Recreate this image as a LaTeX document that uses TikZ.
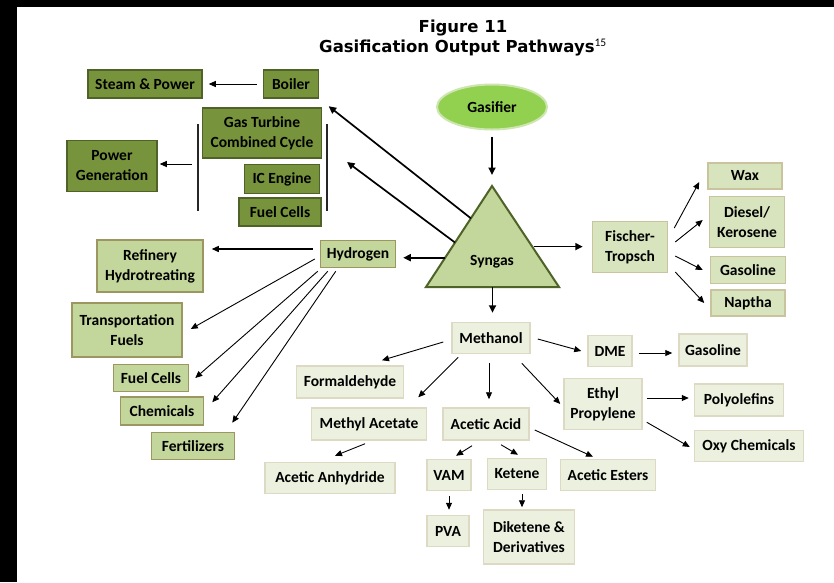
\documentclass[tikz,border=0pt]{standalone}
\usepackage{fontspec}
\setmainfont{Carlito}
\newfontfamily\titlefont{DejaVu Sans}
\usepackage{xcolor}
\usepackage{tikz}
\usetikzlibrary{arrows.meta, positioning, shapes.geometric, calc}

\definecolor{oliveDark}{HTML}{77933C}
\definecolor{oliveLine}{HTML}{4F6228}
\definecolor{oliveMid}{HTML}{C3D69B}
\definecolor{khakiLine}{HTML}{9C9660}
\definecolor{oliveLight}{HTML}{D7E4BD}
\definecolor{tanLine}{HTML}{C9C39E}
\definecolor{olivePale}{HTML}{EBF1DE}
\definecolor{tanPale}{HTML}{DDD9C3}
\definecolor{gasGreen}{HTML}{92D050}
\definecolor{gasRim}{HTML}{CDE5AE}

\begin{document}
\begin{tikzpicture}[
          x=1pt, y=-1pt,
          every node/.style={font=\bfseries\fontsize{15.5}{20}\selectfont, align=center, inner sep=1pt},
          darkbox/.style={rectangle, draw=oliveLine, fill=oliveDark, line width=1.5pt},
          midbox/.style={rectangle, draw=khakiLine, fill=oliveMid, line width=1.5pt},
          lightbox/.style={rectangle, draw=tanLine, fill=oliveLight, line width=1.5pt},
          palebox/.style={rectangle, draw=tanPale, fill=olivePale, line width=1.5pt},
          arr/.style={-{Triangle[length=7pt,width=6pt]}, line width=0.9pt},
          bigarr/.style={-{Triangle[length=7.5pt,width=7pt]}, line width=1.7pt},
          bar/.style={line width=1.8pt, black!85}
        ]
          \fill[black] (0,0) rectangle (834,582);
          \fill[white] (17,7) rectangle (834,582);
          \useasboundingbox (0,0) rectangle (834,582);

          \node[font=\titlefont\bfseries\fontsize{16.5}{20}\selectfont, inner sep=0pt] (title) at (463,38)
            {Figure 11\\Gasification Output Pathways\textsuperscript{\normalfont 15}};

          % power side
          \node[darkbox, minimum width=114, minimum height=28] (steam) at (145,84) {Steam \& Power};
          \node[darkbox, minimum width=55, minimum height=28] (boiler) at (291,84) {Boiler};
          \node[darkbox, minimum width=119, minimum height=50] (gtcc) at (262,133) {Gas Turbine\\Combined Cycle};
          \node[darkbox, minimum width=75, minimum height=29] (icengine) at (282,179) {IC Engine};
          \node[darkbox, minimum width=82, minimum height=28] (fuelcellsA) at (280,212) {Fuel Cells};
          \node[darkbox, minimum width=90, minimum height=51] (power) at (112,166) {Power\\Generation};

          % hydrogen side
          \node[midbox, minimum width=106, minimum height=52] (refinery) at (150,266) {Refinery\\Hydrotreating};
          \node[midbox, minimum width=75, minimum height=27] (hydrogen) at (358,254) {Hydrogen};
          \node[midbox, minimum width=110, minimum height=54] (transport) at (127,330) {Transportation\\Fuels};
          \node[midbox, minimum width=75, minimum height=27] (fuelcellsB) at (151,378) {Fuel Cells};
          \node[midbox, minimum width=83, minimum height=28] (chemicals) at (162,411) {Chemicals};
          \node[midbox, minimum width=83, minimum height=27] (fertilizers) at (193,446) {Fertilizers};

          % gasifier and syngas
          \node[ellipse, draw=gasRim, fill=gasGreen, line width=2pt, minimum width=110, minimum height=45] (gasifier) at (492,107) {Gasifier};
          \coordinate (synA) at (492,186);
          \coordinate (synL) at (426,287);
          \coordinate (synR) at (559,287);
          \filldraw[draw=oliveLine, fill=oliveMid, line width=2pt, line join=miter] (synA) -- (synR) -- (synL) -- cycle;
          \node (syngas) at (492,262) {Syngas};

          % fischer-tropsch
          \node[lightbox, minimum width=75, minimum height=51] (ft) at (630,247) {Fischer-\\Tropsch};
          \node[lightbox, minimum width=74, minimum height=26] (wax) at (745,176) {Wax};
          \node[lightbox, minimum width=75, minimum height=51] (diesel) at (747,222) {Diesel/\\Kerosene};
          \node[lightbox, minimum width=75, minimum height=27] (gasft) at (748,270) {Gasoline};
          \node[lightbox, minimum width=74, minimum height=26] (naptha) at (748,303) {Naptha};

          % methanol
          \node[palebox, minimum width=78, minimum height=31] (methanol) at (491,338) {Methanol};
          \node[palebox, minimum width=44, minimum height=31] (dme) at (610,351) {DME};
          \node[palebox, minimum width=68, minimum height=32] (gasdme) at (713,350) {Gasoline};
          \node[palebox, minimum width=78, minimum height=51] (ethyl) at (603,404) {Ethyl\\Propylene};
          \node[palebox, minimum width=89, minimum height=32] (poly) at (739,400) {Polyolefins};
          \node[palebox, minimum width=109, minimum height=31] (oxy) at (749,446) {Oxy Chemicals};
          \node[palebox, minimum width=107, minimum height=32] (formald) at (350,382) {Formaldehyde};
          \node[palebox, minimum width=115, minimum height=32] (methylac) at (369,424) {Methyl Acetate};
          \node[palebox, minimum width=130, minimum height=31] (anhydride) at (330,478) {Acetic Anhydride};
          \node[palebox, minimum width=86, minimum height=32] (acetic) at (486,424) {Acetic Acid};
          \node[palebox, minimum width=44, minimum height=31] (vam) at (449,475) {VAM};
          \node[palebox, minimum width=59, minimum height=31] (ketene) at (517,474) {Ketene};
          \node[palebox, minimum width=95, minimum height=31] (esters) at (608,475) {Acetic Esters};
          \node[palebox, minimum width=42, minimum height=31] (pva) at (448,531) {PVA};
          \node[palebox, minimum width=91, minimum height=54] (diketene) at (529,537) {Diketene \&\\Derivatives};

          % brackets round the power units
          \coordinate (brL) at (198,164);
          \coordinate (brR) at (327,147);
          \draw[bar] (198,124) -- (198,211);
          \draw[bar] (327,124) -- (327,211);

          % connectors
          \draw[arr, shorten <=6, shorten >=6] (boiler.west) -- (boiler.west -| steam.east);
          \draw[arr, shorten <=6, shorten >=2] (brL) -- (brL -| power.east);
          \draw[bigarr, shorten <=6, shorten >=11] (gasifier.south) -- (synA);
          \draw[bigarr, shorten >=12] ($(synA)!0.32!(synL)$) -- (boiler.south east);
          \draw[bigarr, shorten >=25] ($(synA)!0.56!(synL)$) -- (brR);
          \coordinate (synH) at ($(synA)!0.71!(synL)$);
          \coordinate (synF) at ($(synA)!0.6!(synR)$);
          \coordinate (synB) at ($(synL)!0.5!(synR)$);
          \draw[bigarr, shorten >=7] (synH) -- (synH -| hydrogen.east);
          \draw[bigarr, shorten <=2, shorten >=9] (synF) -- (synF -| ft.west);
          \draw[bigarr, shorten >=9] (synB) -- (synB |- methanol.north);

          \draw[arr, line width=1.3pt, shorten <=7, shorten >=8] ([shift={(0,-5)}]hydrogen.west) -- ([shift={(0,-5)}]hydrogen.west -| refinery.east);
          \draw[arr] ([shift={(-5,5)}]hydrogen.west) -- ([shift={(8,-1)}]transport.east);
          \draw[arr] ([shift={(-2,3)}]hydrogen.south west) -- ([shift={(6,0)}]fuelcellsB.east);
          \draw[arr] ([shift={(8,3)}]hydrogen.south west) -- ([shift={(8,6)}]chemicals.north east);
          \draw[arr] ([shift={(16,3)}]hydrogen.south west) -- ([shift={(-3,-9)}]fertilizers.north east);

          \draw[arr] ([shift={(6,-19)}]ft.east) -- ([shift={(-8,6)}]wax.west);
          \draw[arr] ([shift={(7,-5)}]ft.east) -- ([shift={(-6,-2)}]diesel.west);
          \draw[arr] ([shift={(7,9)}]ft.east) -- ([shift={(-7,0)}]gasft.west);
          \draw[arr] ([shift={(7,25)}]ft.east) -- ([shift={(-6,0)}]naptha.west);

          \draw[arr] ([shift={(-8,4)}]methanol.west) -- ([shift={(32,-5)}]formald.north);
          \draw[arr] ([shift={(7,3)}]methanol.south west) -- ([shift={(-9,-10)}]methylac.north east);
          \draw[arr, shorten <=9, shorten >=8] ([shift={(-2,0)}]methanol.south) -- ([shift={(-2,0)}]methanol.south |- acetic.north);
          \draw[arr] ([shift={(7,1)}]methanol.east) -- ([shift={(-6,0)}]dme.west);
          \draw[arr, shorten <=6, shorten >=6] ([shift={(0,2)}]dme.east) -- ([shift={(0,2)}]dme.east -| gasdme.west);
          \draw[arr] ([shift={(-9,9)}]methanol.south east) -- ([shift={(-3,0)}]ethyl.west);
          \draw[arr, shorten <=4, shorten >=5] ([shift={(0,-6)}]ethyl.east) -- ([shift={(0,-6)}]ethyl.east -| poly.west);
          \draw[arr] ([shift={(4,-8)}]ethyl.south east) -- ([shift={(-4,1)}]oxy.west);
          \draw[arr] ([shift={(-4,3)}]methylac.south) -- ([shift={(5,-6)}]anhydride.north);
          \draw[arr] ([shift={(-14,5)}]acetic.south) -- ([shift={(7,-3)}]vam.north);
          \draw[arr] ([shift={(15,4)}]acetic.south) -- ([shift={(1,-3)}]ketene.north);
          \draw[arr] ([shift={(5,6)}]acetic.east) -- ([shift={(-15,-2)}]esters.north);
          \draw[arr, shorten <=5, shorten >=5] (vam.south) -- (vam.south |- pva.north);
          \draw[arr, shorten <=4, shorten >=2] ([shift={(5,0)}]ketene.south) -- ([shift={(5,0)}]ketene.south |- diketene.north);
        \end{tikzpicture}
\end{document}
